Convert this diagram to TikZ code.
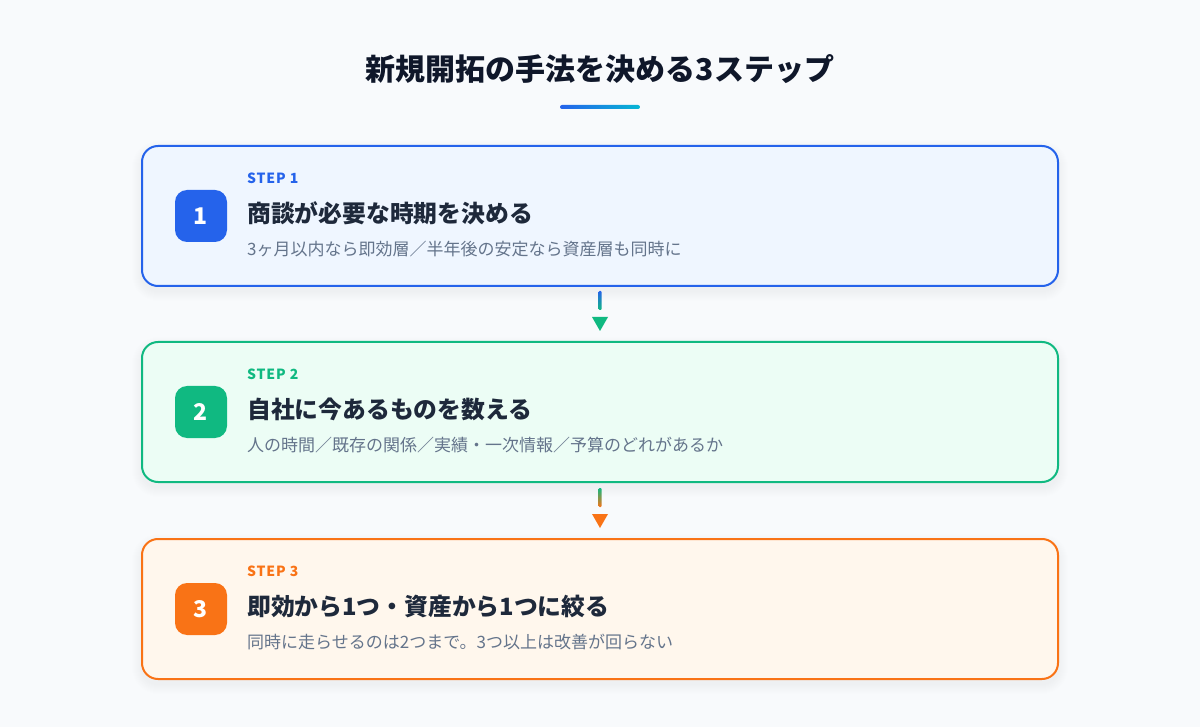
\documentclass[tikz,border=0pt]{standalone}
\usepackage{fontspec}
\setmainfont{Noto Sans CJK JP}
\usetikzlibrary{calc}
\definecolor{bgc}{HTML}{F8FAFC}
\definecolor{cblue}{HTML}{2563EB}
\definecolor{fblue}{HTML}{EFF6FF}
\definecolor{cgreen}{HTML}{10B981}
\definecolor{fgreen}{HTML}{ECFDF5}
\definecolor{corange}{HTML}{F97316}
\definecolor{forange}{HTML}{FFF7ED}
\definecolor{ccyan}{HTML}{06B6D4}
\definecolor{cdark}{HTML}{1E293B}
\definecolor{ctitle}{HTML}{0F172A}
\definecolor{cgray}{HTML}{64748B}
\newcommand\softshadow[6]{% cx cy w h r dy
  \foreach \i in {1,...,10}{
    \fill[black, opacity=#6, rounded corners={#5+\i}]
      ({#1-#3/2-\i},{#2-#4/2-\i+5}) rectangle ({#1+#3/2+\i},{#2+#4/2+\i+5});
  }}
\tikzset{
  stepcard/.style={draw, line width=2pt, rounded corners=16pt, minimum width=916pt, minimum height=140pt, inner sep=0pt},
  badge/.style={rounded corners=12pt, minimum size=52pt, inner sep=0pt, text=white,
    font=\bfseries\fontsize{23}{23}\selectfont},
  steplabel/.style={anchor=west, inner sep=0pt, font=\bfseries\fontsize{14}{15}\selectfont\addfontfeature{LetterSpace=6}},
  stephead/.style={anchor=west, inner sep=0pt, text=cdark, font=\bfseries\fontsize{23.8}{25}\selectfont},
  stepsub/.style={anchor=west, inner sep=0pt, text=cgray, font=\fontsize{17}{18}\selectfont},
}
\begin{document}
\begin{tikzpicture}[x=1pt,y=-1pt]
\fill[bgc] (0,0) rectangle (1200,727);
\useasboundingbox (0,0) rectangle (1200,727);

\node[inner sep=0pt, text=ctitle, font=\bfseries\fontsize{30}{32}\selectfont] (title) at (600,69) {新規開拓の手法を決める3ステップ};
\coordinate (ulL) at (560,105);
\coordinate (ulR) at (640,109);
\shade[left color=cblue, right color=ccyan, rounded corners=2pt] (ulL) rectangle (ulR);

% soft shadows
\softshadow{600}{216}{916}{140}{16}{0.005}
\softshadow{600}{412}{916}{140}{16}{0.005}
\softshadow{600}{609}{916}{140}{16}{0.005}
\softshadow{201}{216}{44}{44}{12}{0.012}
\softshadow{201}{412}{44}{44}{12}{0.012}
\softshadow{201}{609}{44}{44}{12}{0.012}

% Step 1
\node[stepcard, draw=cblue, fill=fblue] (box1) at (600,216) {};
\node[badge, fill=cblue] (b1) at (201,216) {1};
\node[steplabel, text=cblue] (s1) at (247,178.5) {STEP 1};
\node[stephead] (h1) at (247,213) {商談が必要な時期を決める};
\node[stepsub] (t1) at (247,249) {3ヶ月以内なら即効層／半年後の安定なら資産層も同時に};

% Step 2
\node[stepcard, draw=cgreen, fill=fgreen] (box2) at (600,412) {};
\node[badge, fill=cgreen] (b2) at (201,412) {2};
\node[steplabel, text=cgreen] (s2) at (247,374.5) {STEP 2};
\node[stephead] (h2) at (247,409) {自社に今あるものを数える};
\node[stepsub] (t2) at (247,445) {人の時間／既存の関係／実績・一次情報／予算のどれがあるか};

% Step 3
\node[stepcard, draw=corange, fill=forange] (box3) at (600,609) {};
\node[badge, fill=corange] (b3) at (201,609) {3};
\node[steplabel, text=corange] (s3) at (247,571.5) {STEP 3};
\node[stephead] (h3) at (247,606) {即効から1つ・資産から1つに絞る};
\node[stepsub] (t3) at (247,642) {同時に走らせるのは2つまで。3つ以上は改善が回らない};

% Connector 1 -> 2
\shade[top color=cblue, bottom color=cgreen, rounded corners=1pt]
  ($(box1.south)+(-1.5,4)$) rectangle ($(box1.south)+(1.5,23)$);
\fill[cgreen] ($(box1.south)+(-8,30)$) -- ($(box1.south)+(8,30)$) -- ($(box1.south)+(0,44)$) -- cycle;

% Connector 2 -> 3
\shade[top color=cgreen, bottom color=corange, rounded corners=1pt]
  ($(box2.south)+(-1.5,5)$) rectangle ($(box2.south)+(1.5,24)$);
\fill[corange] ($(box2.south)+(-8,31)$) -- ($(box2.south)+(8,31)$) -- ($(box2.south)+(0,45)$) -- cycle;
\end{tikzpicture}
\end{document}
